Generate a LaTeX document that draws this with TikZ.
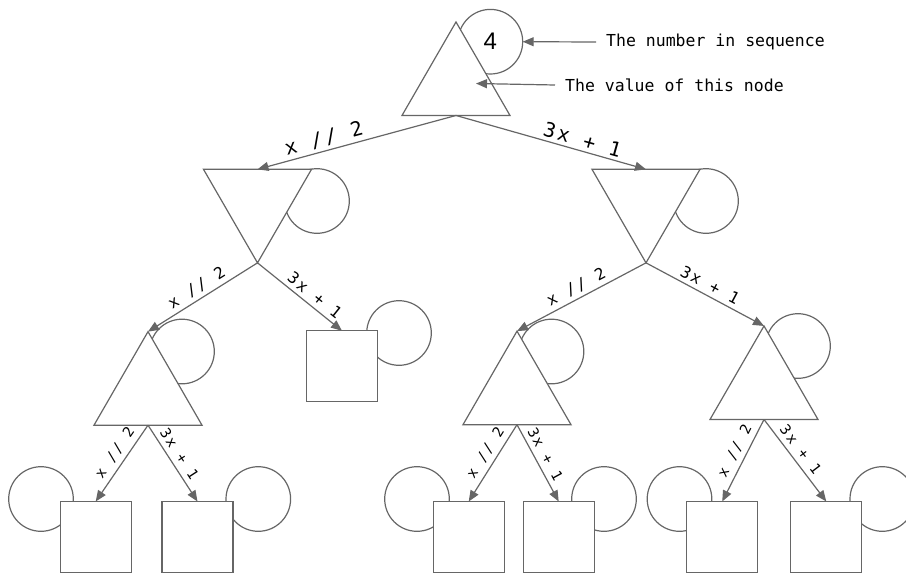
\documentclass[tikz,border=0pt]{standalone}
\usepackage{fontspec}
\usepackage{tikz}
\usepackage{xcolor}
\usetikzlibrary{shapes.geometric, arrows.meta, backgrounds}
\newfontfamily\monofont{DejaVu Sans Mono}
\newfontfamily\lblfont[LetterSpace=13]{DejaVu Sans Mono}
\newfontfamily\numfont{Liberation Sans}
\definecolor{cLine}{RGB}{102,102,102}
\tikzset{
	tri/.style   ={regular polygon, regular polygon sides=3, minimum size=124.7pt, inner sep=0pt, outer sep=0pt, draw=cLine, line width=1.2pt, fill=white},
	invtri/.style={tri, shape border rotate=180},
	leaf/.style  ={rectangle, minimum size=71pt, inner sep=0pt, outer sep=0pt, draw=cLine, line width=1.2pt, fill=white},
	seqc/.style  ={circle, minimum size=64.6pt, inner sep=0pt, outer sep=0pt, draw=cLine, line width=1.2pt},
	branch/.style={-{Triangle[length=11pt, width=9pt]}, draw=cLine, line width=1.2pt},
	% edge labels, one size per level
	lblA/.style  ={font=\lblfont\fontsize{20}{20}\selectfont, sloped, above, inner sep=3pt},
	lblB/.style  ={font=\lblfont\fontsize{16}{16}\selectfont, sloped, above, inner sep=4pt},
	lblC/.style  ={font=\lblfont\fontsize{14.4}{14.4}\selectfont, sloped, above, inner sep=5pt},
	anno/.style  ={font=\monofont\fontsize{16.5}{16.5}\selectfont, anchor=west, inner xsep=10pt, inner ysep=0pt},
}

\begin{document}
\begin{tikzpicture}[x=1pt, y=-1pt]
	\useasboundingbox (0,0) rectangle (906,573);
	% the tree
	\node[tri] (T0) at (456,84.3) {};
	\node[invtri] (L1a) at (257.5,200.5) {};
	\node[invtri] (L1b) at (646,200.5) {};
	\node[tri] (L2a) at (148,394) {};
	\node[leaf] (L2b) at (342,366.3) {};
	\node[tri] (L2c) at (517,393.5) {};
	\node[tri] (L2d) at (764,388.3) {};
	\node[leaf] (B1) at (95.7,537) {};
	\node[leaf] (B2) at (197.5,537) {};
	\node[leaf] (B3) at (468.7,537) {};
	\node[leaf] (B4) at (558.7,537) {};
	\node[leaf] (B5) at (722.2,537) {};
	\node[leaf] (B6) at (826.3,537) {};
	% sequence circles, behind the shapes
	\begin{scope}[on background layer]
		\node[seqc] (C0) at (490.4,41.7) {\numfont\fontsize{24}{24}\selectfont\raisebox{-3pt}{4}};
		\node[seqc] (C1a) at (317,201) {};
		\node[seqc] (C1b) at (706,201) {};
		\node[seqc] (C2a) at (182,351.5) {};
		\node[seqc] (C2b) at (399,333) {};
		\node[seqc] (C2c) at (551.5,351.5) {};
		\node[seqc] (C2d) at (798,346) {};
		\node[seqc] (C3a) at (41,499) {};
		\node[seqc] (C3b) at (258.3,499) {};
		\node[seqc] (C3c) at (417,499) {};
		\node[seqc] (C3d) at (604,499) {};
		\node[seqc] (C3e) at (679.5,499) {};
		\node[seqc] (C3f) at (882.3,499) {};
	\end{scope}
	% annotations
	\node[anno] (seqnote) at (596,42) {The number in sequence};
	\node[anno] (valnote) at (555,85) {The value of this node};
	\coordinate (T0val) at (476,83.5);
	\draw[branch] (seqnote.west) -- (C0.east);
	\draw[branch] (valnote.west) -- (T0val);
	% branches
	\draw[branch] (T0.side 2) -- node[lblA, pos=.65] {x // 2} (L1a.side 2);
	\draw[branch] (T0.side 2) -- node[lblA, pos=.65] {3x + 1} (L1b.side 2);
	\draw[branch] (L1a.corner 1) -- node[lblB, pos=.5] {x // 2} (L2a.corner 1);
	\draw[branch] (L1a.corner 1) -- node[lblB, pos=.6] {3x + 1} (L2b.north);
	\draw[branch] (L1b.corner 1) -- node[lblB, pos=.5] {x // 2} (L2c.corner 1);
	\draw[branch] (L1b.corner 1) -- node[lblB, pos=.5] {3x + 1} (L2d.corner 1);
	\draw[branch] (L2a.side 2) -- node[lblC, pos=.45] {x // 2} (B1.north);
	\draw[branch] (L2a.side 2) -- node[lblC, pos=.45] {3x + 1} (B2.north);
	\draw[branch] (L2c.side 2) -- node[lblC, pos=.45] {x // 2} (B3.north);
	\draw[branch] (L2c.side 2) -- node[lblC, pos=.45] {3x + 1} (B4.north);
	\draw[branch] (L2d.side 2) -- node[lblC, pos=.45] {x // 2} (B5.north);
	\draw[branch] (L2d.side 2) -- node[lblC, pos=.45] {3x + 1} (B6.north);
\end{tikzpicture}
\end{document}
